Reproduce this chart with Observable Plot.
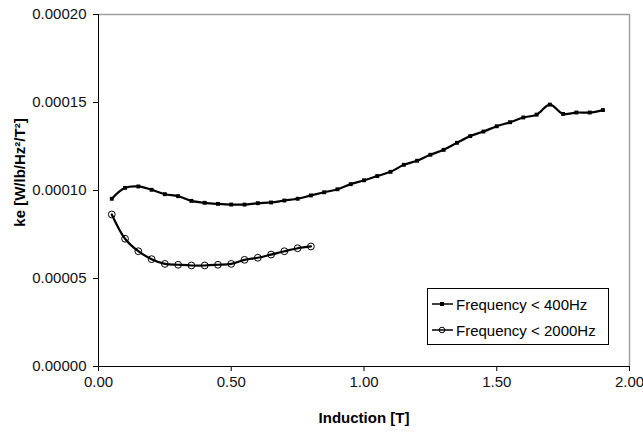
<!DOCTYPE html>
<html>
<head>
<meta charset="utf-8">
<script src="https://cdn.jsdelivr.net/npm/d3@7"></script>
<script src="https://cdn.jsdelivr.net/npm/@observablehq/plot@0.6"></script>
<style>
  html, body { margin: 0; padding: 0; background: #fff; }
  #wrap { position: relative; width: 643px; height: 447px; font-family: "Liberation Sans", Arial, sans-serif; }
  #legend { position: absolute; left: 427px; top: 288px; width: 180px; height: 55px; border: 1px solid #000; background: #fff; font-size: 15px; color: #000; }
  .row { position: absolute; left: 4px; height: 20px; display: flex; align-items: center; }
  .row span { margin-left: 3px; white-space: nowrap; }
</style>
</head>
<body>
<div id="wrap"></div>
<script>
// Induction [T] for the "Frequency < 400Hz" series
const induction400 = [0.05, 0.10, 0.15, 0.20, 0.25, 0.30, 0.35, 0.40, 0.45, 0.50,
  0.55, 0.60, 0.65, 0.70, 0.75, 0.80, 0.85, 0.90, 0.95, 1.00,
  1.05, 1.10, 1.15, 1.20, 1.25, 1.30, 1.35, 1.40, 1.45, 1.50,
  1.55, 1.60, 1.65, 1.70, 1.75, 1.80, 1.85, 1.90];
const ke400 = [0.0000953, 0.0001015, 0.0001023, 0.0001004, 0.0000979, 0.0000968, 0.0000941, 0.0000930, 0.0000924, 0.0000920,
  0.0000920, 0.0000928, 0.0000932, 0.0000943, 0.0000953, 0.0000972, 0.0000990, 0.0001007, 0.0001036, 0.0001058,
  0.0001082, 0.0001106, 0.0001146, 0.0001169, 0.0001203, 0.0001231, 0.0001271, 0.0001309, 0.0001335, 0.0001365,
  0.0001388, 0.0001415, 0.0001431, 0.0001488, 0.0001435, 0.0001443, 0.0001443, 0.0001457];

// Induction [T] for the "Frequency < 2000Hz" series
const induction2000 = [0.05, 0.10, 0.15, 0.20, 0.25, 0.30, 0.35, 0.40, 0.45, 0.50,
  0.55, 0.60, 0.65, 0.70, 0.75, 0.80];
const ke2000 = [0.0000864, 0.0000726, 0.0000655, 0.0000610, 0.0000583, 0.0000578, 0.0000574, 0.0000574, 0.0000578, 0.0000583,
  0.0000606, 0.0000618, 0.0000636, 0.0000655, 0.0000672, 0.0000682];

const seriesNames = ["Frequency < 400Hz", "Frequency < 2000Hz"];
const xTicks = [0, 0.5, 1, 1.5, 2];
const yTicks = [0, 0.00005, 0.0001, 0.00015, 0.0002];
const xTitle = "Induction [T]";
const yTitle = "ke [W/lb/Hz²/T²]";

const s400 = induction400.map((x, i) => ({x, y: ke400[i]}));
const s2000 = induction2000.map((x, i) => ({x, y: ke2000[i]}));

const chart = Plot.plot({
  width: 643,
  height: 447,
  marginLeft: 98,
  marginRight: 14,
  marginTop: 14,
  marginBottom: 81,
  style: { fontFamily: "'Liberation Sans', Arial, sans-serif", fontSize: "15px", color: "#000", background: "#fff" },
  x: { domain: [0, 2] },
  y: { domain: [0, 0.0002] },
  marks: [
    Plot.ruleY([0.0002], { stroke: "#a0a0a0", strokeWidth: 1.5 }),
    Plot.ruleX([2], { stroke: "#a0a0a0", strokeWidth: 1.5 }),
    Plot.axisX({ ticks: xTicks, tickFormat: d3.format(".2f"), tickSize: 5, tickPadding: 5, label: null, stroke: "#000", fill: "#111" }),
    Plot.axisY({ ticks: yTicks, tickFormat: d3.format(".5f"), tickSize: 5, tickPadding: 7, label: null, stroke: "#000", fill: "#111" }),
    Plot.ruleX([0], { stroke: "#000" }),
    Plot.ruleY([0], { stroke: "#000" }),
    Plot.line(s400, { x: "x", y: "y", stroke: "#000", strokeWidth: 2.2, curve: "catmull-rom" }),
    Plot.dot(s400, { x: "x", y: "y", symbol: "square", r: 2.2, fill: "#000", stroke: "none" }),
    Plot.line(s2000, { x: "x", y: "y", stroke: "#000", strokeWidth: 2.2, curve: "catmull-rom" }),
    Plot.dot(s2000, { x: "x", y: "y", symbol: "circle", r: 3.4, fill: "none", stroke: "#000", strokeWidth: 1 }),
    Plot.text([xTitle], { frameAnchor: "bottom", lineAnchor: "middle", textAnchor: "middle", dy: 52, fontWeight: "bold", fontSize: 15, fill: "#000" }),
    Plot.text([yTitle], { frameAnchor: "left", lineAnchor: "middle", textAnchor: "middle", dx: -78, dy: -18, rotate: -90, fontWeight: "bold", fontSize: 15, fill: "#000" })
  ]
});
document.getElementById("wrap").appendChild(chart);

// Legend
const legend = document.createElement("div");
legend.id = "legend";
seriesNames.forEach((name, i) => {
  const row = document.createElement("div");
  row.className = "row";
  row.style.top = (5 + i * 26) + "px";
  const marker = i === 0
    ? '<rect x="8" y="5" width="4" height="4" fill="#000"/>'
    : '<circle cx="10" cy="7" r="2.8" fill="none" stroke="#000" stroke-width="1"/>';
  row.innerHTML = '<svg width="21" height="14"><line x1="0" y1="7" x2="21" y2="7" stroke="#000" stroke-width="1.5"/>' + marker + '</svg><span>' + name + '</span>';
  legend.appendChild(row);
});
document.getElementById("wrap").appendChild(legend);
</script>
</body>
</html>
